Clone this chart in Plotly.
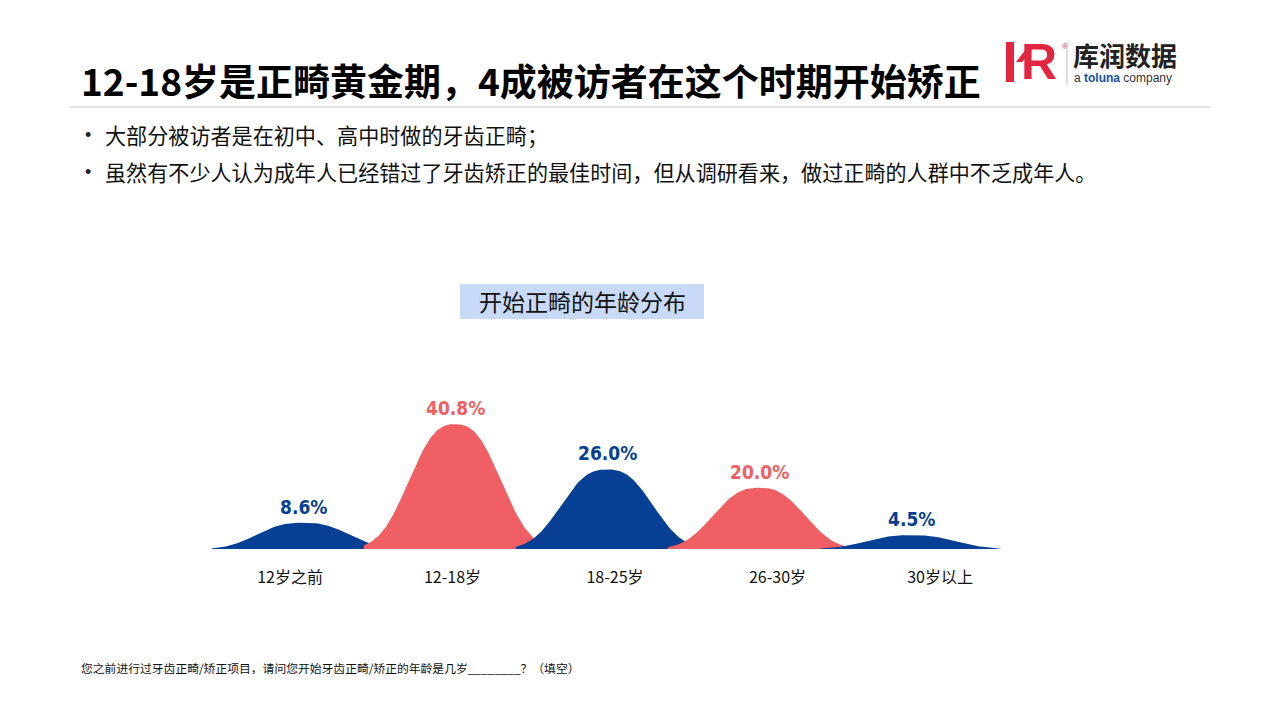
import numpy as np
import plotly.graph_objects as go

# ---- data ----
categories = ["12岁之前", "12-18岁", "18-25岁", "26-30岁", "30岁以上"]
values = [8.6, 40.8, 26.0, 20.0, 4.5]
value_labels = ["8.6%", "40.8%", "26.0%", "20.0%", "4.5%"]

BLUE = "#063F93"
RED = "#F05F64"
colors = [BLUE, RED, BLUE, RED, BLUE]

W, H = 1280, 720
OFF = 8  # page body margin offset
CJK = "Noto Sans CJK SC"

fig = go.Figure()

# bell-shaped marks, one per category, drawn left to right
hwhm = 0.32
power = 2.6
half = 0.6
for i, (v, c) in enumerate(zip(values, colors)):
    t = np.linspace(-half, half, 161)
    xs = i + t
    ys = v * np.exp(-np.log(2) * (np.abs(t) / hwhm) ** power)
    xs = np.concatenate([[i - half], xs, [i + half]])
    ys = np.concatenate([[0], ys, [0]])
    fig.add_trace(go.Scatter(x=xs, y=ys, fill="toself", mode="lines",
                             line=dict(width=0, color=c), fillcolor=c,
                             hoverinfo="skip", showlegend=False,
                             xaxis="x", yaxis="y"))

# value labels above peaks
for i, (v, lab, c) in enumerate(zip(values, value_labels, colors)):
    fig.add_annotation(x=i, y=v, xref="x", yref="y", text="<b>%s</b>" % lab,
                       showarrow=False, yanchor="bottom", yshift=3,
                       font=dict(family="Liberation Sans Narrow, DejaVu Sans Condensed, Arial Narrow", size=19, color=c))

# invisible trace on overlay axis for category tick labels
fig.add_trace(go.Scatter(x=categories, y=[0]*len(categories), mode="markers",
                         marker=dict(opacity=0), hoverinfo="skip", showlegend=False,
                         xaxis="x2", yaxis="y"))

base_py = 549 - OFF
px_per_unit = 3.06
cx0, cdx = 303 - OFF, 152      # hump centers
lx0, ldx = 290 - OFF, 162.5    # label centers

fig.update_layout(
    width=W, height=H,
    margin=dict(l=0, r=0, t=0, b=0),
    paper_bgcolor="white", plot_bgcolor="rgba(0,0,0,0)",
    xaxis=dict(domain=[0, 1], range=[-cx0 / cdx, (W - cx0) / cdx],
               showgrid=False, zeroline=False, showticklabels=False, showline=False),
    xaxis2=dict(domain=[0, 1], overlaying="x", anchor="y", side="bottom",
                range=[-lx0 / ldx, (W - lx0) / ldx], type="category",
                showgrid=False, zeroline=False, showline=False,
                ticks="outside", ticklen=14, tickcolor="rgba(0,0,0,0)",
                tickfont=dict(family=CJK, size=16, color="#111111")),
    yaxis=dict(domain=[1 - base_py / H, 1], range=[0, base_py / px_per_unit],
               showgrid=False, zeroline=False, showticklabels=False, showline=False),
)

def px(x): return (x - OFF) / W
def py(y): return 1 - (y - OFF) / H

# title
fig.add_annotation(x=px(79), y=py(80), xref="paper", yref="paper", xanchor="left", yanchor="middle",
                   text="<b>12-18岁是正畸黄金期，4成被访者在这个时期开始矫正</b>", showarrow=False,
                   font=dict(family=CJK, size=37, color="#000000"))
# separator line
fig.add_shape(type="line", xref="paper", yref="paper", x0=px(70), x1=px(1210), y0=py(107), y1=py(107),
              line=dict(color="#D9D9D9", width=1.5))

# logo
fig.add_shape(type="rect", xref="paper", yref="paper", x0=px(1006), x1=px(1014), y0=py(82), y1=py(42),
              fillcolor="#E3263F", line=dict(width=0))
fig.add_shape(type="path", xref="paper", yref="paper",
              path="M %f %f L %f %f L %f %f L %f %f Z" % (px(1016), py(62), px(1027), py(48), px(1031), py(52), px(1022), py(62)),
              fillcolor="#E3263F", line=dict(width=0))
fig.add_annotation(x=px(1019), y=py(62), xref="paper", yref="paper", xanchor="left", yanchor="middle",
                   text="<b>R</b>", showarrow=False,
                   font=dict(family="Liberation Sans", size=50, color="#E3263F"))
fig.add_annotation(x=px(1060), y=py(46), xref="paper", yref="paper", xanchor="left", yanchor="middle",
                   text="®", showarrow=False, font=dict(family="Liberation Sans", size=7, color="#E3263F"))
fig.add_shape(type="line", xref="paper", yref="paper", x0=px(1067), x1=px(1067), y0=py(42), y1=py(85),
              line=dict(color="#BFBFBF", width=1))
fig.add_annotation(x=px(1071), y=py(55), xref="paper", yref="paper", xanchor="left", yanchor="middle",
                   text="<b>库润数据</b>", showarrow=False,
                   font=dict(family=CJK, size=26, color="#222222"))
fig.add_annotation(x=px(1072), y=py(78), xref="paper", yref="paper", xanchor="left", yanchor="middle",
                   text="a <b><span style='color:#1B4FA0'>toluna</span></b> company", showarrow=False,
                   font=dict(family="Liberation Sans", size=12, color="#333333"))

# bullets
bullets = ["大部分被访者是在初中、高中时做的牙齿正畸；",
           "虽然有不少人认为成年人已经错过了牙齿矫正的最佳时间，但从调研看来，做过正畸的人群中不乏成年人。"]
for k, (b, yy) in enumerate(zip(bullets, [135, 172])):
    fig.add_annotation(x=px(83), y=py(yy), xref="paper", yref="paper", xanchor="left", yanchor="middle",
                       text="•", showarrow=False, font=dict(family="Liberation Sans", size=18, color="#222222"))
    fig.add_annotation(x=px(103), y=py(yy), xref="paper", yref="paper", xanchor="left", yanchor="middle",
                       text=b, showarrow=False, font=dict(family=CJK, size=21.1, color="#111111"))

# chart title box
fig.add_shape(type="rect", xref="paper", yref="paper", x0=px(460), x1=px(704), y0=py(319), y1=py(284),
              fillcolor="#C9DAF8", line=dict(width=0), layer="below")
fig.add_annotation(x=px(582), y=py(301), xref="paper", yref="paper", xanchor="center", yanchor="middle",
                   text="开始正畸的年龄分布", showarrow=False, font=dict(family=CJK, size=23, color="#111111"))

# footnote
fig.add_annotation(x=px(79), y=py(667), xref="paper", yref="paper", xanchor="left", yanchor="middle",
                   text="您之前进行过牙齿正畸/矫正项目，请问您开始牙齿正畸/矫正的年龄是几岁________？（填空）",
                   showarrow=False, font=dict(family=CJK, size=11.8, color="#111111"))

fig.write_html("out.html")
